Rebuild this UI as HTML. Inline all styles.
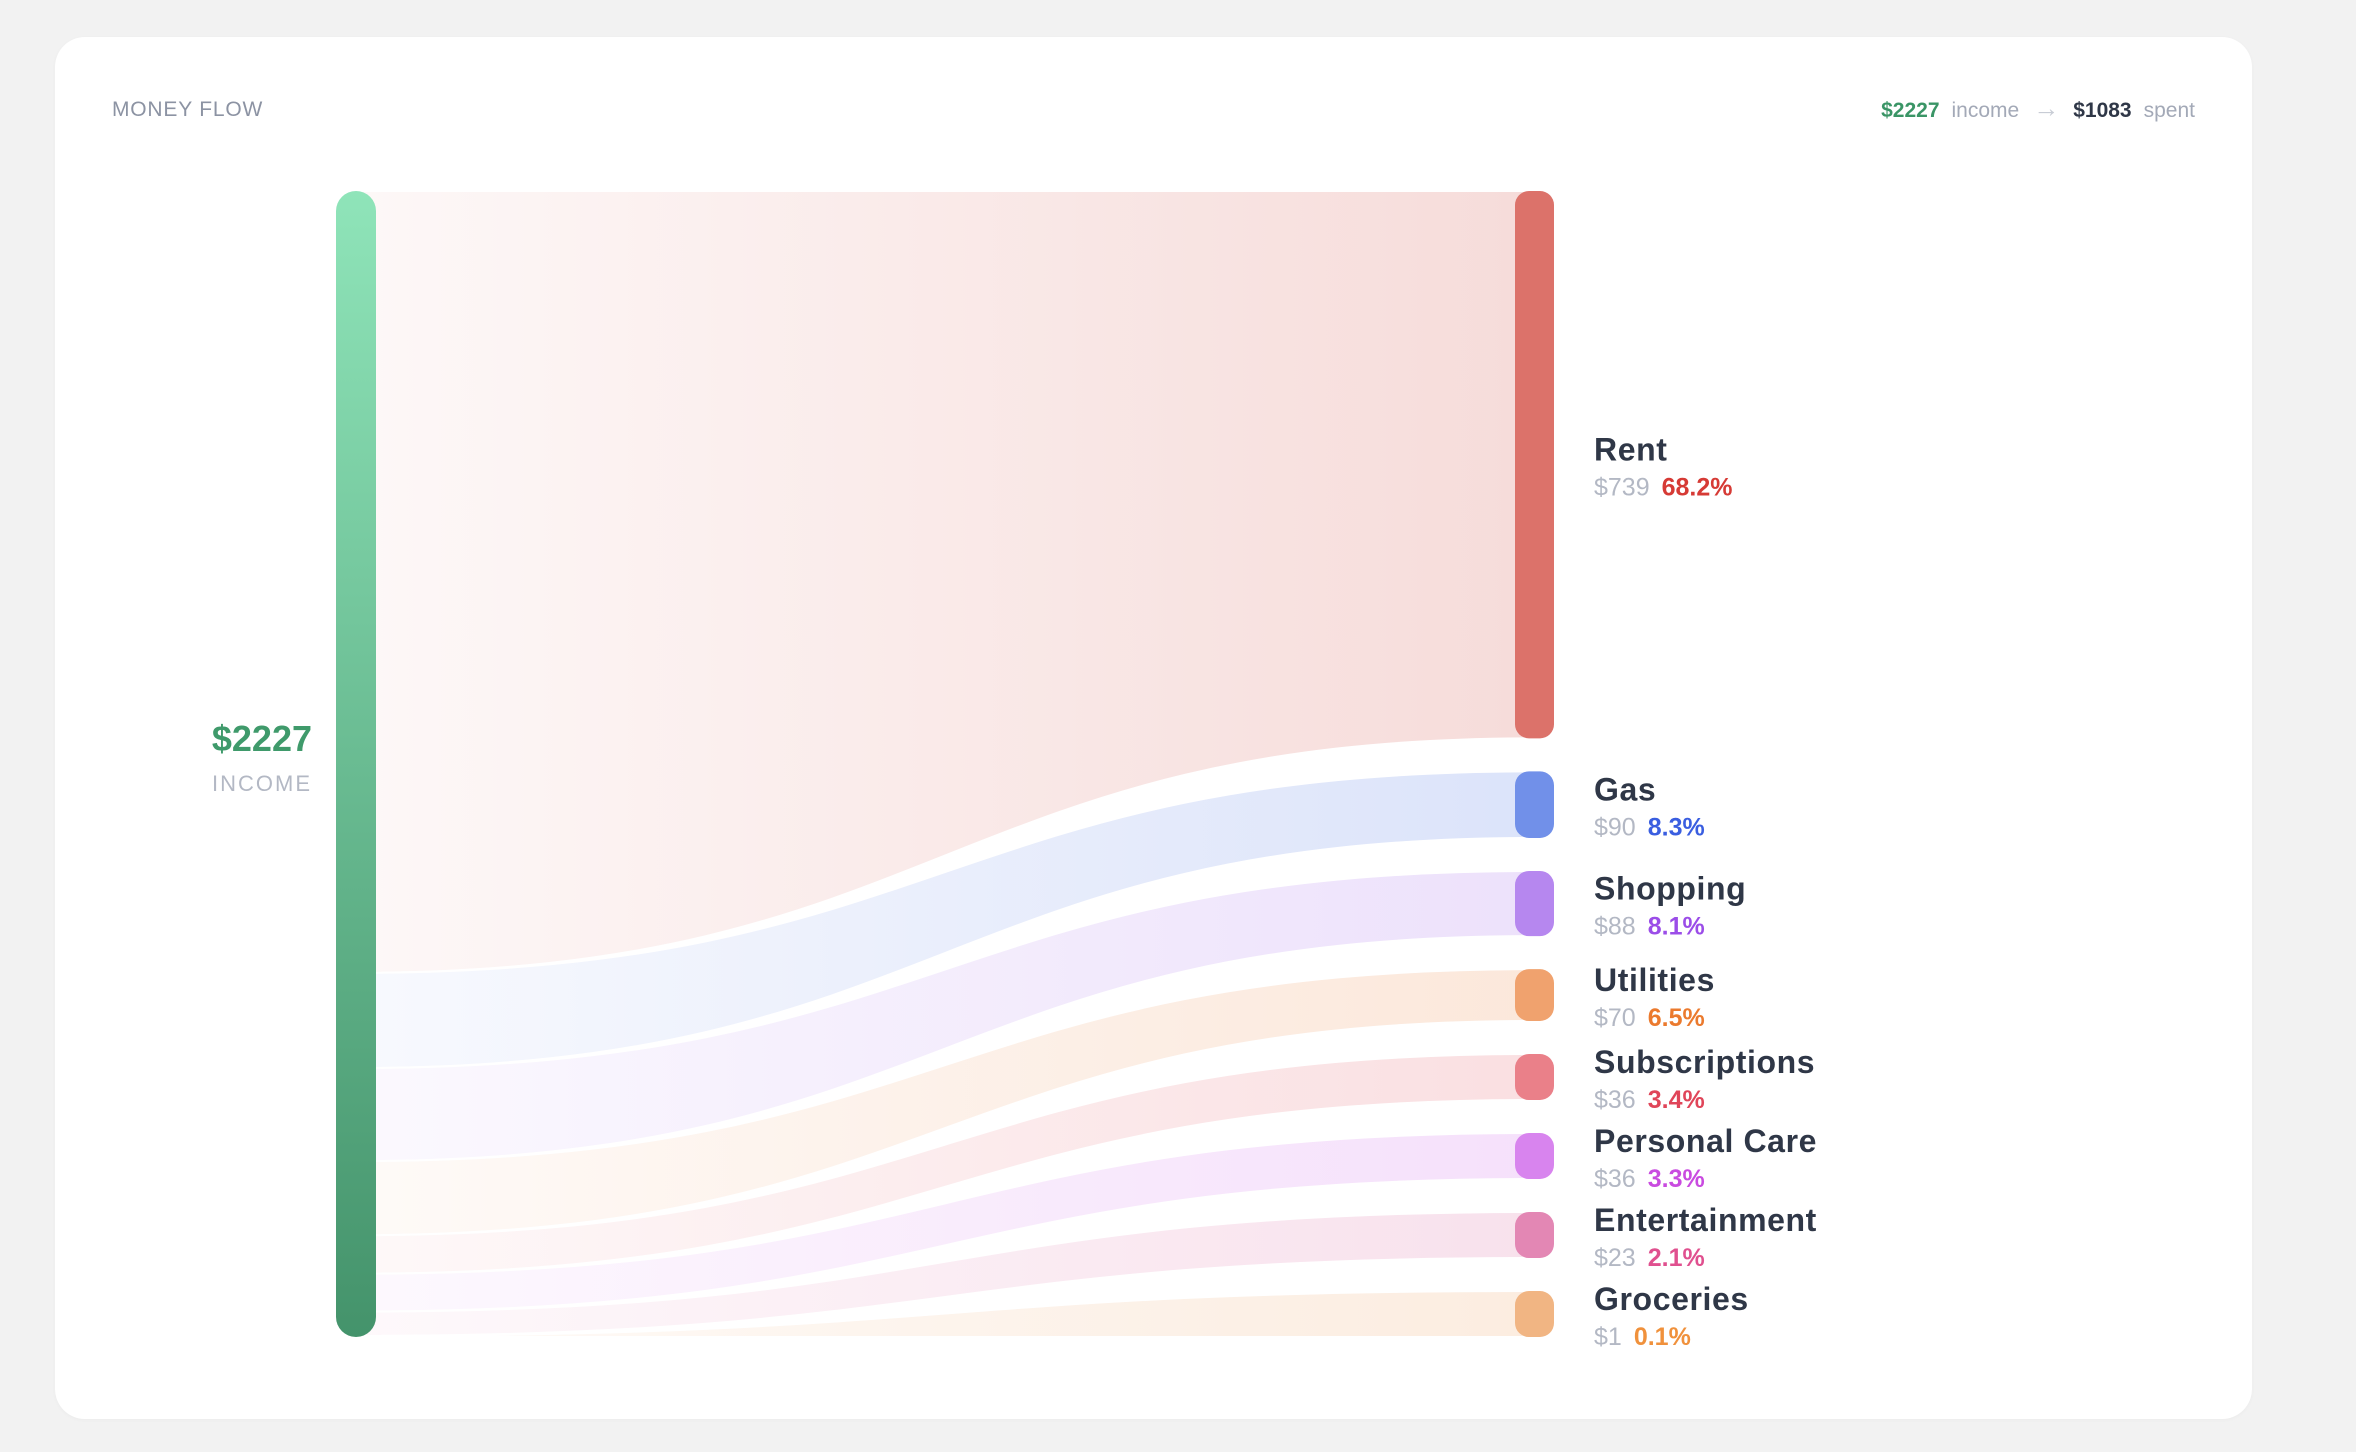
<!DOCTYPE html>
<html><head><meta charset="utf-8"><style>
html,body{margin:0;padding:0;width:2356px;height:1452px;background:#f2f2f2;overflow:hidden;font-family:"Liberation Sans",sans-serif;}
.card{position:absolute;left:55px;top:37px;width:2197px;height:1382px;background:#fff;border-radius:30px;box-shadow:0 1px 4px rgba(0,0,0,0.03);}
svg{position:absolute;left:0;top:0;}
</style></head><body>
<div class="card"></div>
<svg id="chart" width="2356" height="1452">
<defs>
<linearGradient id="incomeGrad" x1="0" y1="0" x2="0" y2="1"><stop offset="0" stop-color="#8fe4b9"/><stop offset="1" stop-color="#44936b"/></linearGradient>
</defs>
<text x="112" y="116" font-size="21" fill="#8c93a3" letter-spacing="0.8">MONEY FLOW</text>
<text x="2195" y="117" font-size="21" text-anchor="end"><tspan fill="#3a9566" font-weight="bold">$2227</tspan><tspan fill="#a3a9b7" dx="12">income</tspan><tspan fill="#c8ccd5" dx="14" font-size="26">→</tspan><tspan fill="#2f3747" font-weight="bold" dx="14">$1083</tspan><tspan fill="#a3a9b7" dx="12">spent</tspan></text>
<text x="312" y="751" font-size="36" font-weight="bold" fill="#3f9a6b" text-anchor="end">$2227</text>
<text x="312" y="791" font-size="22" fill="#b3b8c4" text-anchor="end" letter-spacing="2">INCOME</text>
<g id="flows"></g>
<rect x="336" y="191" width="40" height="1146" rx="20" fill="url(#incomeGrad)"/>
<g id="nodes"></g>
</svg>
<script>
const categories = ["Rent","Gas","Shopping","Utilities","Subscriptions","Personal Care","Entertainment","Groceries"];
const values = [739, 90, 88, 70, 36.4, 35.8, 23, 1];
const nodeColors = ["#dc726a","#7190e9","#b687ef","#f0a26e","#ea8089","#d884ee","#e387b4","#f1b583"];
const pctColors = ["#d63a35","#3a5ee0","#9b4de8","#eb7a2e","#e04559","#c94be0","#e0508f","#f0913c"];
const NS="http://www.w3.org/2000/svg";
const top0=191, bot0=1337, H=bot0-top0, gap=33, minH=46;
const xL=356, xR=1534, nodeX=1515, nodeW=39;
const total=values.reduce((a,b)=>a+b,0);
let k=1;
for(let it=0;it<50;it++){let fixed=0,vs=0;values.forEach(v=>{if(v*k<minH)fixed+=minH;else vs+=v;});k=(H-gap*(values.length-1)-fixed)/vs;}
const flows=document.getElementById('flows'), nodes=document.getElementById('nodes'), svg=document.getElementById('chart');
const defs=svg.querySelector('defs');
let ly=top0, ry=top0;
values.forEach((v,i)=>{
  const lh=v/total*H, rh=Math.max(v*k,minH);
  const g=document.createElementNS(NS,'linearGradient');
  g.setAttribute('id','fg'+i);g.setAttribute('x1','0');g.setAttribute('x2','1');g.setAttribute('y1','0');g.setAttribute('y2','0');
  g.innerHTML='<stop offset="0" stop-color="'+nodeColors[i]+'" stop-opacity="0.05"/><stop offset="1" stop-color="'+nodeColors[i]+'" stop-opacity="0.25"/>';
  defs.appendChild(g);
  const mx=(xL+xR)/2;
  const p=document.createElementNS(NS,'path');
  p.setAttribute('d',`M${xL},${ly} C${mx},${ly} ${mx},${ry} ${xR},${ry} L${xR},${ry+rh} C${mx},${ry+rh} ${mx},${ly+lh} ${xL},${ly+lh} Z`);
  p.setAttribute('fill','url(#fg'+i+')');p.setAttribute('stroke','#fff');p.setAttribute('stroke-width','2');
  
  
  flows.appendChild(p);
  const r=document.createElementNS(NS,'rect');
  r.setAttribute('x',nodeX);r.setAttribute('y',ry);r.setAttribute('width',nodeW);r.setAttribute('height',rh);r.setAttribute('rx',14);r.setAttribute('fill',nodeColors[i]);
  
  
  nodes.appendChild(r);
  const cy=ry+rh/2;
  const t=document.createElementNS(NS,'text');
  t.setAttribute('x',1594);t.setAttribute('y',cy-4);t.setAttribute('font-size','32');t.setAttribute('font-weight','bold');t.setAttribute('fill','#2f3747');t.setAttribute('letter-spacing','0.6');
  t.textContent=categories[i];
  
  
  nodes.appendChild(t);
  const t2=document.createElementNS(NS,'text');
  t2.setAttribute('x',1594);t2.setAttribute('y',cy+31);t2.setAttribute('font-size','25');
  t2.innerHTML='<tspan fill="#b3b8c4">$'+Math.round(v)+'</tspan><tspan dx="12" fill="'+pctColors[i]+'" font-weight="bold">'+(v/total*100).toFixed(1)+'%</tspan>';
  
  
  nodes.appendChild(t2);
  ly+=lh; ry+=rh+gap;
});
</script>
</body></html>
